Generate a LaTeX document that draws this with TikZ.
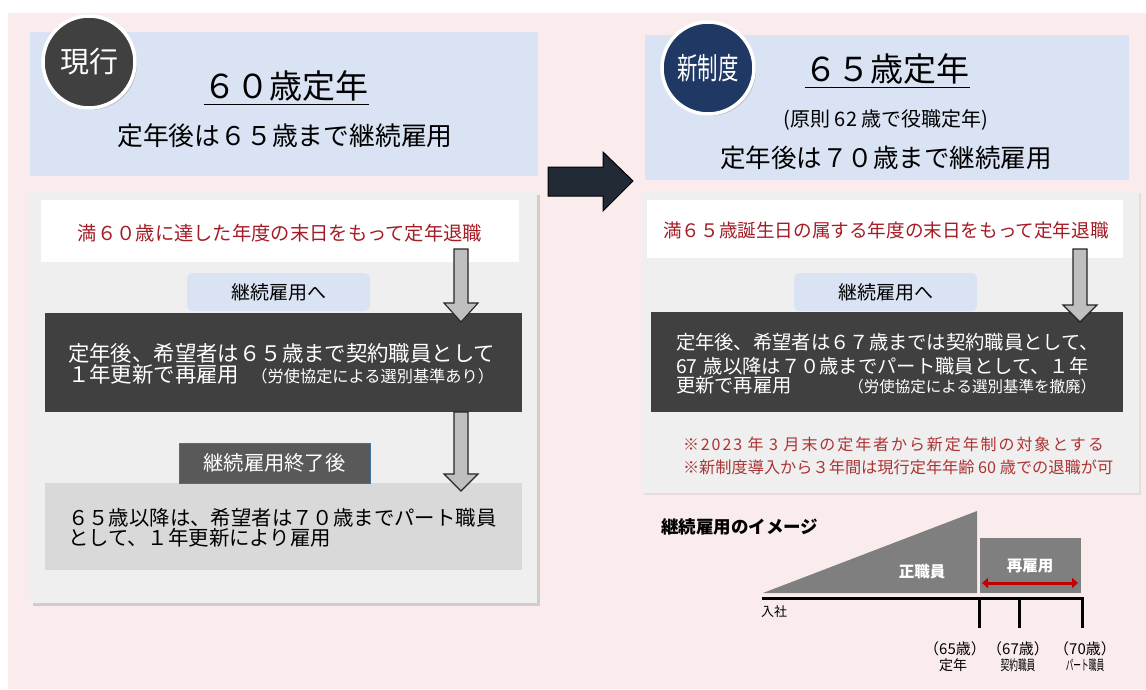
\documentclass[tikz,border=0pt]{standalone}
\usepackage{fontspec}
\usepackage{graphicx}
\setmainfont{Noto Sans CJK JP}
\newfontfamily\jpls[LetterSpace=12]{Noto Sans CJK JP}
\usetikzlibrary{shadows,arrows.meta,calc}
\definecolor{bgpink}{RGB}{250,236,236}
\definecolor{hdrblue}{RGB}{218,227,243}
\definecolor{panelgray}{RGB}{239,239,239}
\definecolor{darkbox}{RGB}{64,64,64}
\definecolor{lightbox}{RGB}{217,217,217}
\definecolor{endbox}{RGB}{89,89,89}
\definecolor{endborder}{RGB}{65,113,156}
\definecolor{redtxt}{RGB}{165,28,38}
\definecolor{notetxt}{RGB}{172,52,52}
\definecolor{arrowgray}{RGB}{191,191,191}
\definecolor{bigarrow}{RGB}{34,42,53}
\definecolor{navy}{RGB}{31,56,100}
\definecolor{chartgray}{RGB}{127,127,127}
\definecolor{redarrow}{RGB}{192,0,0}
\newcommand\fsz[2]{\fontsize{#1}{#2}\selectfont}
\newcommand\garrow[4]{%
  \draw[fill=arrowgray, draw=black!85, line width=1.1pt, line join=miter]
    (#1-7,#2) -- (#1+7,#2) -- (#1+7,#3) -- (#1+17,#3) -- (#1,#4) -- (#1-17,#3) -- (#1-7,#3) -- cycle;}
\begin{document}
\begin{tikzpicture}[x=1pt,y=-1pt,
  box/.style={anchor=north west, inner sep=0pt, outer sep=0pt},
  txt/.style={inner sep=0pt, outer sep=0pt},
  shade/.style={drop shadow={opacity=0.3, shadow xshift=2.5pt, shadow yshift=-2.5pt}},
  badge/.style={circle, draw=white, line width=3.5pt, minimum size=92pt, inner sep=0pt,
    text=white, drop shadow={opacity=0.35, shadow xshift=2pt, shadow yshift=-2pt}},
  tick/.style={line width=3pt}
]
\useasboundingbox (0,0) rectangle (1146,689);
\fill[white] (0,0) rectangle (1146,689);
\fill[bgpink] (8,13) rectangle (1146,689);

% ---------------- left (current) ----------------
\node[box, fill=hdrblue, minimum width=508pt, minimum height=144pt] (lhead) at (30,32) {};
\node[box, fill=panelgray, minimum width=507pt, minimum height=411pt, shade] (lpanel) at (30,192) {};
\node[box, fill=white, minimum width=478pt, minimum height=62pt] (lwhite) at (41,200) {};
\node[box, fill=hdrblue, rounded corners=6pt, minimum width=183pt, minimum height=38pt] (lcont) at (187,273) {};
\node[box, fill=darkbox, minimum width=477pt, minimum height=99pt] (ldark) at (45,313) {};
\node[box, fill=lightbox, minimum width=477pt, minimum height=87pt] (llight) at (45,483) {};
\node[box, fill=endbox, draw=endborder, line width=1pt, minimum width=191pt, minimum height=40pt] (lend) at (179,443) {};

\node[badge, fill=darkbox] (lcirc) at (89,62) {\fsz{29}{29}現行};
\node[txt] (lt1) at (286,86) {\fsz{33}{33}６０歳定年};
\draw[line width=1.6pt] ([yshift=-3pt]lt1.south west) -- ([yshift=-3pt]lt1.south east);
\node[txt] (lt2) at (285,136) {\fsz{25.8}{26}定年後は６５歳まで継続雇用};

\node[txt, text=redtxt] (lred) at (280,233) {\fsz{19.3}{20}満６０歳に達した年度の末日をもって定年退職};
\node[txt] (lconttxt) at (lcont.center) {\fsz{19}{20}継続雇用へ};
\node[txt, text=white, text width=429pt, align=left] (ldarktxt) at (282.5,364)
  {\fsz{21.4}{26}定年後、希望者は６５歳まで契約職員として\\１年更新で再雇用\hfill{\fsz{16.2}{20}（労使協定による選別基準あり）}\hspace*{3pt}};
\node[txt, text=white] (lendtxt) at (lend.center) {\fsz{20.3}{21}継続雇用終了後};
\node[txt, text width=429pt, align=left] (llighttxt) at (282.5,528)
  {\fsz{20.4}{22.5}６５歳以降は、希望者は７０歳までパート職員\\として、１年更新により雇用};

\garrow{461}{249}{303}{322}
\garrow{461}{412}{474}{491}

% ---------------- big arrow ----------------
\draw[fill=bigarrow, draw=black, line width=1pt, line join=miter]
  (548,167) -- (603,167) -- (603,152) -- (633,181) -- (603,211) -- (603,196) -- (548,196) -- cycle;

% ---------------- right (new) ----------------
\node[box, fill=hdrblue, minimum width=484pt, minimum height=145pt] (rhead) at (645,35) {};
\node[box, fill=panelgray, minimum width=497pt, minimum height=302pt,
  drop shadow={opacity=0.15, shadow xshift=2pt, shadow yshift=-2pt}] (rpanel) at (642,191) {};
\node[box, fill=white, minimum width=476pt, minimum height=58pt] (rwhite) at (647,200) {};
\node[box, fill=hdrblue, rounded corners=6pt, minimum width=183pt, minimum height=38pt] (rcont) at (794,273) {};
\node[box, fill=darkbox, minimum width=472pt, minimum height=100pt] (rdark) at (651,312) {};

\node[badge, fill=navy] (rcirc) at (708,68) {\scalebox{0.68}[1]{\fsz{30}{30}新制度}};
\node[txt] (rt1) at (887,69) {\fsz{33}{33}６５歳定年};
\draw[line width=1.6pt] ([yshift=-3pt]rt1.south west) -- ([yshift=-3pt]rt1.south east);
\node[txt] (rt2) at (886,120) {\fsz{20}{20}(原則 62 歳で役職定年)};
\node[txt] (rt3) at (886,158) {\fsz{25.5}{26}定年後は７０歳まで継続雇用};

\node[txt, text=redtxt] (rred) at (886,230) {\fsz{18.6}{20}満６５歳誕生日の属する年度の末日をもって定年退職};
\node[txt] (rconttxt) at (rcont.center) {\fsz{19}{20}継続雇用へ};
\node[txt, text=white, text width=426pt, align=left] (rdarktxt) at (889,363.5)
  {\fsz{19.3}{24.5}定年後、希望者は６７歳までは契約職員として、\\67\,\,歳以降は７０歳までパート職員として、１年\\更新で再雇用\hfill{\fsz{15.5}{20}（労使協定による選別基準を撤廃）}\hspace*{6pt}};
\garrow{1080}{249}{305}{322}

\node[txt, text=notetxt, anchor=west] (note1) at (683,444) {\jpls\fsz{16}{18}※2023 年 3 月末の定年者から新定年制の対象とする};
\node[txt, text=notetxt, anchor=west] (note2) at (683,467) {\fsz{16.2}{18}※新制度導入から３年間は現行定年年齢 60 歳での退職が可};

% ---------------- image chart ----------------
\node[txt, anchor=west] (imgtitle) at (661,527) {\bfseries\fsz{17.5}{18}継続雇用のイメージ};
\fill[chartgray] (763,593) -- (977,511) -- (977,593) -- cycle;
\node[box, fill=chartgray, minimum width=101pt, minimum height=55pt] (rehire) at (980,538) {};
\node[txt, text=white] (seishokuin) at (922,572) {\bfseries\fsz{15.5}{16}正職員};
\node[txt, text=white] (rehiretxt) at (1030,566) {\bfseries\fsz{15.5}{16}再雇用};
\coordinate (ra1) at (982,583);
\coordinate (ra2) at (1078,583);
\draw[redarrow, line width=3pt, {Triangle[length=6pt,width=10pt]}-{Triangle[length=6pt,width=10pt]}] (ra1) -- (ra2);

\coordinate (ax0) at (762,598);
\coordinate (ax65) at (979,598);
\coordinate (ax67) at (1019,598);
\coordinate (ax70) at (1082,598);
\draw[tick, line join=miter] (ax0) -- (ax70) -- ++(0,30);
\draw[tick] (ax65) -- ++(0,30);
\draw[tick] (ax67) -- ++(0,30);
\node[txt, anchor=west] (nyusha) at (761,612) {\fsz{13}{13}入社};

\node[txt] (l65a) at (955,649) {\fsz{15}{15}（65歳）};
\node[txt] (l65b) at (953,665) {\fsz{14}{14}定年};
\node[txt] (l67a) at (1018,649) {\fsz{15}{15}（67歳）};
\node[txt] (l67b) at (1018,665) {\scalebox{0.62}[1]{\fsz{14}{14}契約職員}};
\node[txt] (l70a) at (1085,649) {\fsz{15}{15}（70歳）};
\node[txt] (l70b) at (1085,665) {\scalebox{0.55}[1]{\fsz{14}{14}パート職員}};
\end{tikzpicture}
\end{document}
